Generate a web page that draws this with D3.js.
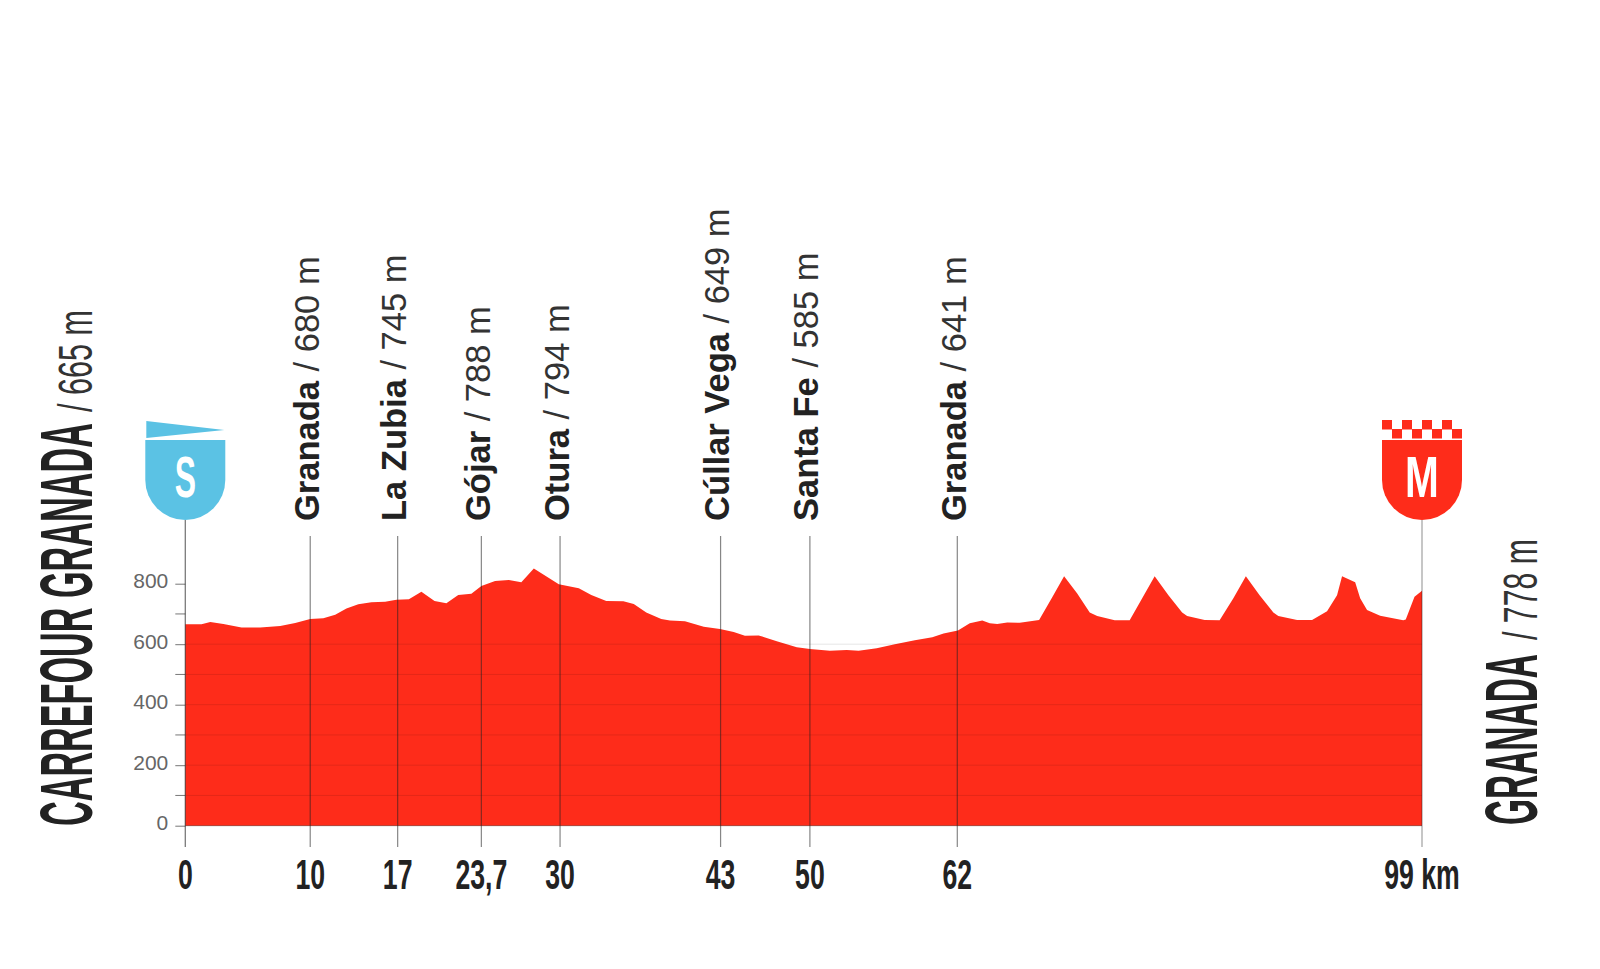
<!DOCTYPE html>
<html>
<head>
<meta charset="utf-8">
<script src="https://cdn.jsdelivr.net/npm/d3@7"></script>
<style>
  html, body { margin: 0; padding: 0; background: #fff; }
  svg { display: block; }
</style>
</head>
<body>
<svg id="chart" width="1600" height="969"></svg>
<script>
// profile: km, metres
var profileKm = [0,1.3,2,3.05,4.5,6,7.6,8.8,10,11.05,12,12.9,13.85,14.9,16,16.9,17.9,18.9,19.95,20.9,21.85,22.9,23.7,24.8,25.9,26.9,27.9,29.9,31.5,32.5,33.7,35.07,35.9,36.9,38.1,38.8,40,41.5,42.8,43.9,44.8,45.9,47.35,48.95,50,51.6,52.95,53.9,55.35,56.8,58.4,59.8,60.7,61.85,62.8,63.8,64.4,65,65.8,66.8,68.35,69.4,70.35,71.4,72.4,73,74.4,75.6,76.6,77.6,78.7,79.8,80.2,81.6,82.8,83.9,84.9,86,87.1,87.5,89,90.2,91.4,92.2,92.6,93.65,94.05,94.6,95.65,97.5,97.7,98.4,99];
var profileM = [666,666,673,667,655,655,660,670,683,686,697,718,732,739,740,747,749,773,743,735,763,767,792,809,812,805,850,798,785,763,743,742,733,705,683,678,676,658,650,640,628,629,610,590,584,578,581,578,587,600,613,623,635,645,669,678,669,667,672,671,680,755,825,768,705,693,679,679,752,825,762,705,693,680,679,752,825,762,705,693,680,680,709,762,825,805,752,713,694,679,682,757,777];

// where the lines stand on the picture, the labels say 43 and 62
var stopKm = [10,17,23.7,30,42.85,50,61.8];
var stopKmLabels = ["10","17","23,7","30","43","50","62"];
var stopNames = ["Granada","La Zubia","Gójar","Otura","Cúllar Vega","Santa Fe","Granada"];
var stopHeights = ["680 m","745 m","788 m","794 m","649 m","585 m","641 m"];

var majorTicks = [0,200,400,600,800];
var minorTicks = [100,300,500,700];

var startName = "CARREFOUR GRANADA", startHeight = "/ 665 m";
var finishName = "GRANADA", finishHeight = "/ 778 m";

var narrow = "'Liberation Sans Narrow','Liberation Sans',sans-serif";
var sans = "'Liberation Sans',Arimo,sans-serif";
var red = "#fe2c1a", blue = "#5bc2e4", ink = "#222";

var svg = d3.select("#chart");
var x = d3.scaleLinear().domain([0,99]).range([185.3,1422]);
var y = d3.scaleLinear().domain([0,800]).range([825.7,583.7]);

// red profile
var area = d3.area()
  .x(function(d){ return x(d[0]); })
  .y0(y(0))
  .y1(function(d){ return y(d[1]); });
svg.append("path")
  .datum(d3.zip(profileKm,profileM))
  .attr("d",area)
  .attr("fill",red);

// faint lines through the fill
var gridVals = majorTicks.concat(minorTicks);
svg.append("g").selectAll("line").data(gridVals.filter(function(d){return d>0 && d<=600;}))
  .enter().append("line")
  .attr("x1",x(0)).attr("x2",x(99))
  .attr("y1",function(d){return y(d);}).attr("y2",function(d){return y(d);})
  .attr("stroke","#000").attr("stroke-opacity",0.1).attr("stroke-width",1);
svg.append("line").attr("x1",x(0)).attr("x2",x(99)).attr("y1",y(0)).attr("y2",y(0))
  .attr("stroke","#000").attr("stroke-opacity",0.35).attr("stroke-width",1);

// y axis
var yAxis = d3.axisLeft(y).tickValues(majorTicks).tickSize(10).tickFormat(d3.format("d"));
var yg = svg.append("g").attr("transform","translate("+x(0)+",0)").call(yAxis);
yg.select(".domain").remove();
yg.selectAll("line").attr("stroke","#777");
yg.selectAll("text").attr("x",-17).attr("font-family",sans).attr("font-size",21).attr("fill","#666").attr("dy","0.2em");
svg.append("g").selectAll("line").data(minorTicks).enter().append("line")
  .attr("x1",x(0)-10).attr("x2",x(0))
  .attr("y1",function(d){return y(d);}).attr("y2",function(d){return y(d);})
  .attr("stroke","#777");

// stop lines, km labels and names
var stops = svg.append("g").selectAll("g").data(stopKm).enter().append("g")
  .attr("transform",function(d){return "translate("+x(d)+",0)";});
stops.append("line").attr("y1",536).attr("y2",847)
  .attr("stroke","#222").attr("stroke-opacity",0.55).attr("stroke-width",1.2);

function kmLabel(sel){
  sel.attr("y",0).attr("text-anchor","middle")
    .attr("font-family",narrow).attr("font-weight","bold")
    .attr("font-size",43).attr("fill",ink);
}
stops.append("text").call(kmLabel)
  .attr("transform","translate(0,889) scale(0.62,1)")
  .text(function(d,i){return stopKmLabels[i];});

var names = stops.append("text")
  .attr("transform","translate(8.5,521) rotate(-90)")
  .attr("font-family",sans).attr("font-size",34.5).attr("fill",ink);
names.append("tspan").attr("font-weight","bold").text(function(d,i){return stopNames[i];});
names.append("tspan").attr("fill","#333").text(function(d,i){return " / "+stopHeights[i];});

// start and finish poles
[0,99].forEach(function(km){
  svg.append("line").attr("x1",x(km)).attr("x2",x(km)).attr("y1",520).attr("y2",847)
    .attr("stroke","#222").attr("stroke-opacity",km==0?0.6:0.4).attr("stroke-width",1.3);
});
function kmEnd(txt,km){
  svg.append("text").call(kmLabel)
    .attr("transform","translate("+x(km)+",889) scale(0.62,1)").text(txt);
}
kmEnd("0",0);
kmEnd("99 km",99);

// shields
function shield(cx,col,letter,sx){
  var g = svg.append("g").attr("transform","translate("+cx+",0)");
  g.append("path").attr("fill",col)
    .attr("d","M-40,440H40V480A40,40 0 0 1 -40,480Z");
  g.append("text").attr("text-anchor","middle").attr("fill","#fff")
    .attr("font-family",narrow).attr("font-weight","bold").attr("font-size",58)
    .attr("transform","translate(0,497) scale("+sx+",1)").text(letter);
  return g;
}
shield(x(0),blue,"S",0.55).append("path").attr("fill",blue)
  .attr("d","M-39,421L39,430L-39,438Z");
var fin = shield(x(99),red,"M",0.7);
d3.range(8).forEach(function(i){
  fin.append("rect").attr("x",-40+i*10).attr("y",i%2?429:420)
    .attr("width",10).attr("height",9.5).attr("fill",red);
});

// big rotated place names, squeezed to their length on the picture
function bigText(px,py,txt,len,size,weight,col){
  var t = svg.append("text")
    .attr("font-family",narrow).attr("font-size",size).attr("font-weight",weight).attr("fill",col)
    .text(txt);
  var sx = len/t.node().getComputedTextLength();
  t.attr("transform","translate("+px+","+py+") rotate(-90) scale("+sx+",1)");
}
bigText(92,826,startName,403,74,"bold",ink);
bigText(92,412,startHeight,102,48,"normal","#333");
bigText(1537,825,finishName,171,74,"bold",ink);
bigText(1537,640,finishHeight,101,48,"normal","#333");
</script>
</body>
</html>
